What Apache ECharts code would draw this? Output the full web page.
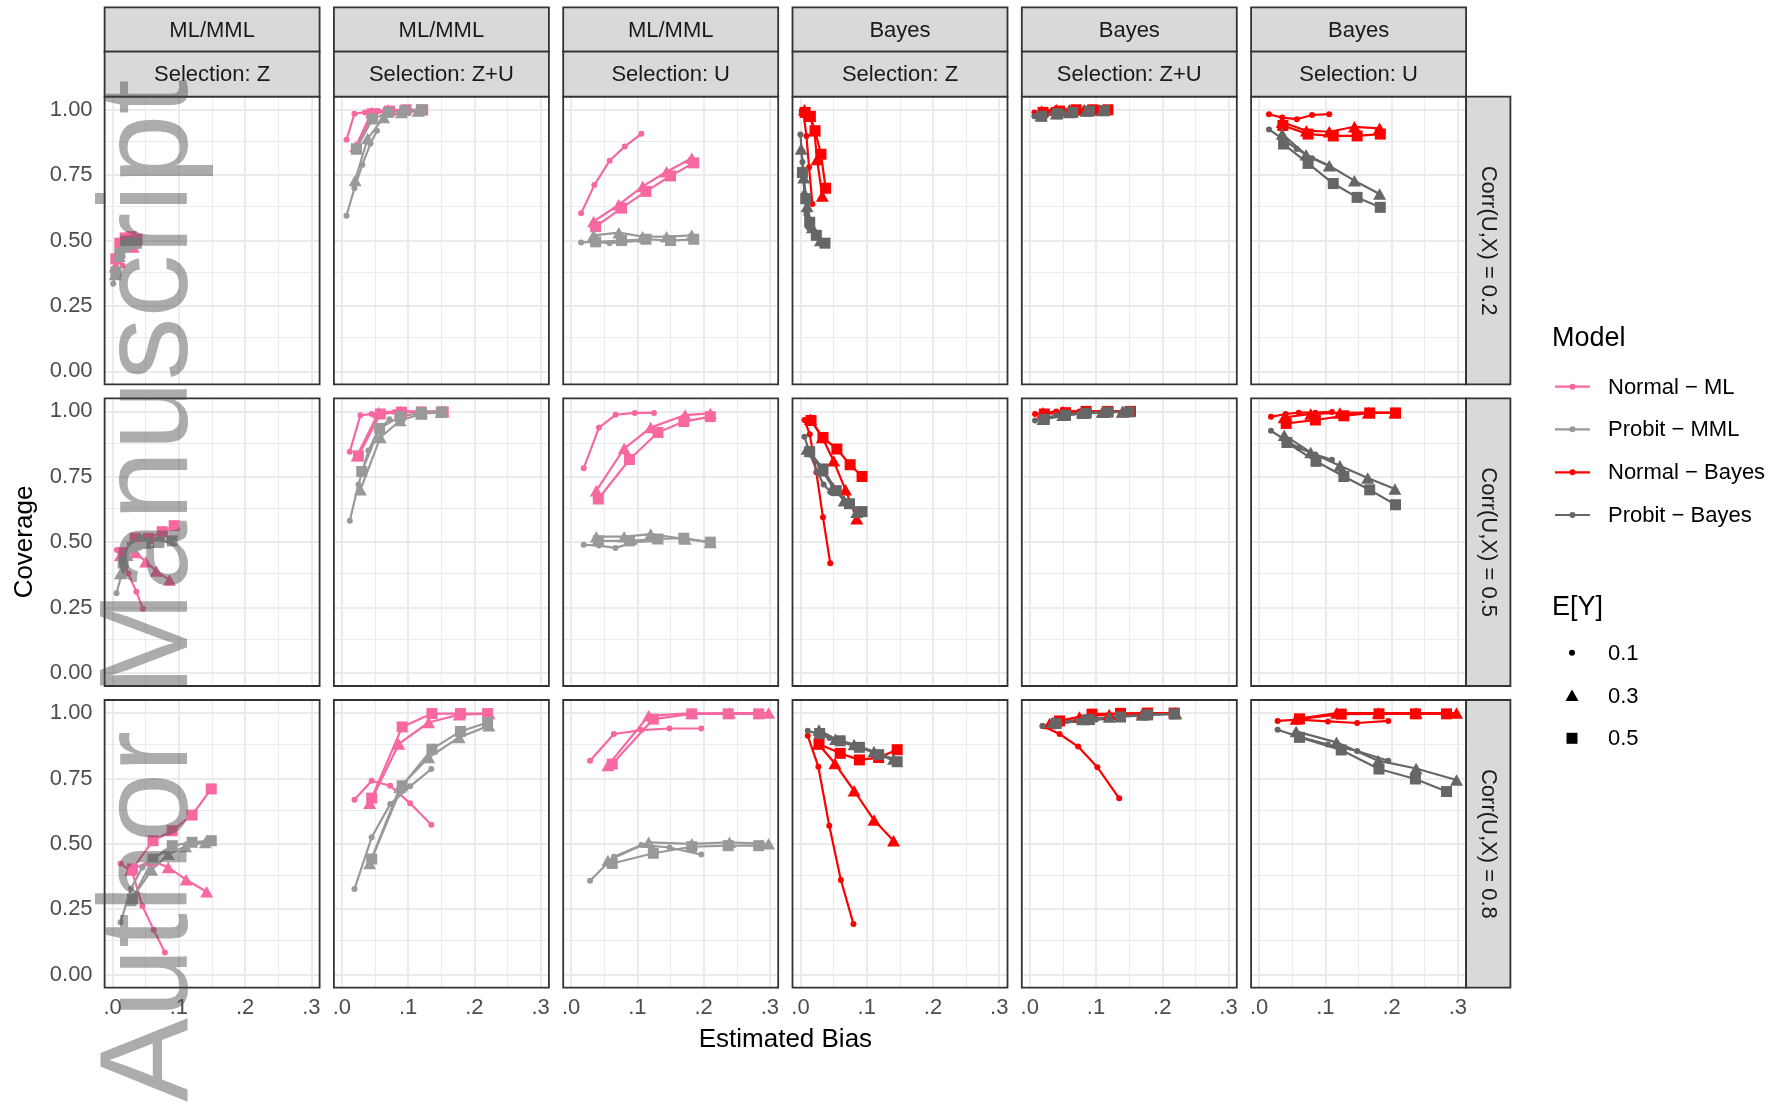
<!DOCTYPE html>
<html><head><meta charset="utf-8">
<script src="https://cdn.jsdelivr.net/npm/echarts@6/dist/echarts.min.js"></script>
<style>html,body{margin:0;padding:0;background:#fff}#c{width:1776px;height:1104px}</style>
</head><body><div id="c"></div>
<script>
// ---------- labels / categories ----------
const methods = ['ML/MML','ML/MML','ML/MML','Bayes','Bayes','Bayes'];
const selections = ['Selection: Z','Selection: Z+U','Selection: U','Selection: Z','Selection: Z+U','Selection: U'];
const corrLabels = ['Corr(U,X) = 0.2','Corr(U,X) = 0.5','Corr(U,X) = 0.8'];
const modelNames = ['Normal − ML','Probit − MML','Normal − Bayes','Probit − Bayes'];
const eyLabels = ['0.1','0.3','0.5'];
const xTickValues = [0, 0.1, 0.2, 0.3];
const xTickLabels = ['.0', '.1', '.2', '.3'];
const xMinorValues = [0.05, 0.15, 0.25];
const yTickValues = [0, 0.25, 0.5, 0.75, 1];
const yTickLabels = ['0.00', '0.25', '0.50', '0.75', '1.00'];
const yMinorValues = [0.125, 0.375, 0.625, 0.875];

// ---------- data: each panel = [Normal E.1, Normal E.3, Normal E.5, Probit E.1, Probit E.3, Probit E.5], points [bias, coverage]
// Row 1: Corr(U,X)=0.2
const r1c1 = [
  [[0.002,0.375],[0.004,0.42],[0.007,0.45],[0.011,0.43],[0.015,0.405]],
  [[0.004,0.40],[0.010,0.46],[0.017,0.49],[0.024,0.485],[0.031,0.475]],
  [[0.005,0.43],[0.011,0.49],[0.019,0.51],[0.028,0.515],[0.037,0.505]],
  [[0.001,0.335],[0.004,0.37],[0.008,0.43],[0.013,0.47],[0.018,0.49]],
  [[0.004,0.37],[0.010,0.44],[0.017,0.475],[0.024,0.49],[0.031,0.49]],
  [[0.005,0.38],[0.011,0.45],[0.019,0.48],[0.027,0.49],[0.036,0.49]]
];
const r1c2 = [
  [[0.007,0.885],[0.019,0.985],[0.035,0.99],[0.055,0.995],[0.075,0.998]],
  [[0.021,0.86],[0.045,0.99],[0.07,1.0],[0.095,1.0],[0.12,1.0]],
  [[0.022,0.85],[0.046,0.985],[0.072,0.995],[0.097,1.0],[0.122,1.0]],
  [[0.007,0.595],[0.019,0.70],[0.031,0.79],[0.043,0.87],[0.053,0.92]],
  [[0.020,0.73],[0.039,0.89],[0.063,0.97],[0.09,0.99],[0.115,0.995]],
  [[0.022,0.85],[0.046,0.965],[0.07,0.99],[0.095,0.997],[0.12,1.0]]
];
const r1c3 = [
  [[0.015,0.604],[0.035,0.712],[0.058,0.805],[0.081,0.86],[0.106,0.908]],
  [[0.034,0.573],[0.072,0.637],[0.108,0.707],[0.144,0.763],[0.182,0.815]],
  [[0.037,0.553],[0.076,0.624],[0.113,0.688],[0.150,0.747],[0.185,0.797]],
  [[0.015,0.493],[0.035,0.495],[0.058,0.49],[0.081,0.495],[0.106,0.50]],
  [[0.034,0.52],[0.072,0.53],[0.108,0.515],[0.144,0.515],[0.182,0.52]],
  [[0.037,0.495],[0.076,0.50],[0.113,0.505],[0.150,0.50],[0.185,0.505]]
];
const r1c4 = [
  [[0.002,0.995],[0.005,0.98],[0.009,0.9],[0.013,0.78],[0.018,0.64]],
  [[0.006,1.0],[0.014,0.975],[0.021,0.92],[0.025,0.81],[0.033,0.67]],
  [[0.007,0.99],[0.015,0.975],[0.022,0.92],[0.031,0.83],[0.038,0.70]],
  [[0.000,0.905],[0.003,0.80],[0.006,0.68],[0.009,0.60],[0.012,0.55]],
  [[0.001,0.85],[0.005,0.74],[0.010,0.63],[0.018,0.55],[0.030,0.50]],
  [[0.003,0.76],[0.008,0.66],[0.014,0.57],[0.024,0.52],[0.037,0.49]]
];
const r1c5 = [
  [[0.007,0.99],[0.02,0.995],[0.035,1.0],[0.05,1.0],[0.065,1.0]],
  [[0.018,0.995],[0.04,1.0],[0.06,1.0],[0.082,1.0],[0.105,1.0]],
  [[0.02,0.99],[0.045,0.995],[0.07,1.0],[0.095,1.0],[0.118,1.0]],
  [[0.007,0.975],[0.02,0.98],[0.035,0.985],[0.05,0.99],[0.065,0.992]],
  [[0.017,0.978],[0.04,0.985],[0.06,0.99],[0.085,0.995],[0.11,0.997]],
  [[0.018,0.975],[0.042,0.985],[0.065,0.99],[0.09,0.995],[0.113,0.997]]
];
const r1c6 = [
  [[0.015,0.983],[0.035,0.97],[0.057,0.964],[0.08,0.98],[0.106,0.983]],
  [[0.035,0.952],[0.0715,0.92],[0.106,0.916],[0.144,0.935],[0.182,0.929]],
  [[0.036,0.94],[0.074,0.907],[0.112,0.90],[0.148,0.90],[0.183,0.907]],
  [[0.015,0.925],[0.035,0.89],[0.057,0.85],[0.08,0.815],[0.106,0.785]],
  [[0.035,0.907],[0.071,0.828],[0.106,0.786],[0.144,0.729],[0.182,0.678]],
  [[0.037,0.869],[0.074,0.795],[0.112,0.718],[0.148,0.665],[0.183,0.627]]
];
// Row 2: Corr(U,X)=0.5
const r2c1 = [
  [[0.0065,0.47],[0.015,0.43],[0.024,0.38],[0.036,0.31],[0.046,0.245]],
  [[0.012,0.45],[0.035,0.46],[0.050,0.425],[0.066,0.39],[0.086,0.355]],
  [[0.016,0.46],[0.034,0.515],[0.054,0.515],[0.075,0.54],[0.093,0.563]],
  [[0.006,0.305],[0.015,0.39],[0.022,0.46],[0.032,0.50],[0.042,0.52]],
  [[0.012,0.38],[0.022,0.45],[0.035,0.49],[0.05,0.50],[0.068,0.50]],
  [[0.016,0.42],[0.03,0.48],[0.05,0.495],[0.07,0.50],[0.09,0.505]]
];
const r2c2 = [
  [[0.012,0.846],[0.028,0.985],[0.045,0.99],[0.062,0.995],[0.08,0.998]],
  [[0.023,0.83],[0.0555,0.996],[0.088,1.0],[0.12,1.0],[0.153,1.0]],
  [[0.025,0.83],[0.058,0.99],[0.09,0.997],[0.12,0.998],[0.153,0.998]],
  [[0.012,0.582],[0.025,0.72],[0.04,0.85],[0.055,0.93],[0.072,0.97]],
  [[0.028,0.70],[0.058,0.90],[0.088,0.965],[0.12,0.99],[0.15,0.997]],
  [[0.03,0.77],[0.057,0.935],[0.088,0.98],[0.12,0.995],[0.15,0.998]]
];
const r2c3 = [
  [[0.019,0.783],[0.042,0.938],[0.067,0.987],[0.096,0.994],[0.125,0.994]],
  [[0.038,0.697],[0.08,0.858],[0.12,0.938],[0.172,0.986],[0.21,0.992]],
  [[0.041,0.665],[0.088,0.816],[0.131,0.919],[0.17,0.961],[0.21,0.98]],
  [[0.019,0.49],[0.042,0.487],[0.067,0.478],[0.096,0.50],[0.125,0.505]],
  [[0.038,0.521],[0.08,0.521],[0.12,0.531],[0.172,0.512],[0.21,0.499]],
  [[0.041,0.505],[0.088,0.505],[0.131,0.512],[0.17,0.515],[0.21,0.50]]
];
const r2c4 = [
  [[0.006,0.967],[0.014,0.913],[0.024,0.767],[0.034,0.595],[0.045,0.419]],
  [[0.015,0.97],[0.033,0.90],[0.05,0.811],[0.068,0.70],[0.085,0.589]],
  [[0.016,0.965],[0.034,0.90],[0.055,0.856],[0.075,0.796],[0.093,0.751]],
  [[0.006,0.903],[0.015,0.834],[0.025,0.77],[0.035,0.72],[0.046,0.69]],
  [[0.01,0.856],[0.033,0.773],[0.049,0.709],[0.066,0.658],[0.085,0.614]],
  [[0.014,0.846],[0.034,0.78],[0.054,0.697],[0.074,0.647],[0.093,0.617]]
];
const r2c5 = [
  [[0.008,0.99],[0.025,0.995],[0.04,1.0],[0.058,1.0],[0.075,1.0]],
  [[0.02,0.995],[0.05,1.0],[0.08,1.0],[0.11,1.0],[0.14,1.0]],
  [[0.022,0.99],[0.054,0.995],[0.085,1.0],[0.118,1.0],[0.152,1.0]],
  [[0.008,0.965],[0.025,0.975],[0.04,0.985],[0.058,0.99],[0.075,0.993]],
  [[0.02,0.97],[0.05,0.985],[0.08,0.993],[0.11,0.997],[0.14,0.998]],
  [[0.022,0.97],[0.054,0.985],[0.085,0.993],[0.118,0.997],[0.15,0.998]]
];
const r2c6 = [
  [[0.018,0.979],[0.04,0.99],[0.06,0.995],[0.085,0.995],[0.11,0.998]],
  [[0.038,0.977],[0.078,0.99],[0.122,0.994],[0.165,0.995],[0.205,0.995]],
  [[0.041,0.954],[0.085,0.967],[0.128,0.983],[0.167,0.994],[0.206,0.994]],
  [[0.018,0.926],[0.04,0.89],[0.06,0.86],[0.085,0.835],[0.11,0.815]],
  [[0.038,0.909],[0.078,0.843],[0.122,0.792],[0.164,0.745],[0.205,0.703]],
  [[0.042,0.881],[0.086,0.809],[0.128,0.751],[0.167,0.70],[0.206,0.643]]
];
// Row 3: Corr(U,X)=0.8
const r3c1 = [
  [[0.012,0.425],[0.030,0.39],[0.045,0.262],[0.062,0.172],[0.079,0.085]],
  [[0.027,0.40],[0.059,0.435],[0.084,0.41],[0.111,0.363],[0.142,0.317]],
  [[0.030,0.404],[0.061,0.512],[0.09,0.55],[0.12,0.61],[0.149,0.71]],
  [[0.012,0.20],[0.028,0.33],[0.045,0.41],[0.062,0.45],[0.08,0.47]],
  [[0.027,0.283],[0.059,0.40],[0.084,0.46],[0.11,0.49],[0.14,0.505]],
  [[0.030,0.289],[0.061,0.442],[0.09,0.493],[0.12,0.506],[0.149,0.512]]
];
const r3c2 = [
  [[0.019,0.669],[0.045,0.741],[0.073,0.722],[0.103,0.655],[0.135,0.573]],
  [[0.042,0.655],[0.086,0.882],[0.131,0.964],[0.177,0.994],[0.222,0.998]],
  [[0.045,0.675],[0.091,0.947],[0.136,0.998],[0.179,0.998],[0.22,0.998]],
  [[0.019,0.327],[0.045,0.525],[0.073,0.652],[0.103,0.72],[0.135,0.786]],
  [[0.042,0.425],[0.0875,0.716],[0.131,0.83],[0.177,0.907],[0.222,0.952]],
  [[0.045,0.442],[0.091,0.722],[0.136,0.862],[0.179,0.93],[0.22,0.964]]
];
const r3c3 = [
  [[0.0285,0.818],[0.0645,0.92],[0.106,0.935],[0.1485,0.941],[0.1965,0.941]],
  [[0.0555,0.80],[0.117,0.99],[0.182,0.999],[0.239,1.0],[0.298,1.0]],
  [[0.062,0.805],[0.124,0.977],[0.182,0.997],[0.237,0.997],[0.283,0.997]],
  [[0.0285,0.359],[0.0645,0.451],[0.106,0.496],[0.1485,0.486],[0.1965,0.459]],
  [[0.0555,0.436],[0.117,0.506],[0.182,0.50],[0.239,0.506],[0.298,0.50]],
  [[0.062,0.425],[0.124,0.464],[0.182,0.489],[0.237,0.493],[0.283,0.493]]
];
const r3c4 = [
  [[0.011,0.913],[0.027,0.795],[0.0435,0.569],[0.061,0.362],[0.080,0.194]],
  [[0.027,0.882],[0.052,0.807],[0.081,0.703],[0.111,0.591],[0.1405,0.512]],
  [[0.028,0.882],[0.06,0.846],[0.089,0.821],[0.118,0.83],[0.146,0.86]],
  [[0.011,0.932],[0.028,0.92],[0.044,0.905],[0.061,0.89],[0.08,0.875]],
  [[0.028,0.935],[0.053,0.90],[0.081,0.88],[0.111,0.853],[0.1405,0.824]],
  [[0.029,0.922],[0.06,0.894],[0.089,0.869],[0.118,0.841],[0.146,0.814]]
];
const r3c5 = [
  [[0.0193,0.951],[0.045,0.92],[0.073,0.872],[0.102,0.793],[0.135,0.674]],
  [[0.03,0.96],[0.075,0.985],[0.12,0.995],[0.17,0.998],[0.22,1.0]],
  [[0.045,0.97],[0.094,0.996],[0.137,0.999],[0.178,1.0],[0.218,1.0]],
  [[0.0193,0.951],[0.045,0.96],[0.073,0.97],[0.1,0.975],[0.135,0.98]],
  [[0.035,0.965],[0.08,0.975],[0.12,0.985],[0.17,0.993],[0.22,0.997]],
  [[0.04,0.96],[0.09,0.975],[0.137,0.985],[0.178,0.993],[0.218,0.997]]
];
const r3c6 = [
  [[0.028,0.97],[0.06,0.975],[0.104,0.968],[0.148,0.962],[0.195,0.97]],
  [[0.056,0.977],[0.117,1.0],[0.18,1.0],[0.237,1.0],[0.298,1.0]],
  [[0.061,0.978],[0.124,0.996],[0.181,0.997],[0.236,0.997],[0.283,0.997]],
  [[0.028,0.936],[0.06,0.91],[0.104,0.88],[0.148,0.855],[0.195,0.818]],
  [[0.056,0.93],[0.117,0.888],[0.18,0.818],[0.237,0.788],[0.298,0.744]],
  [[0.061,0.907],[0.124,0.859],[0.181,0.786],[0.236,0.748],[0.283,0.70]]
];

const panels = [
  [r1c1, r1c2, r1c3, r1c4, r1c5, r1c6],
  [r2c1, r2c2, r2c3, r2c4, r2c5, r2c6],
  [r3c1, r3c2, r3c3, r3c4, r3c5, r3c6]
];

// ---------- styling ----------
const FONT = '"Liberation Sans", Arial, Helvetica, sans-serif';
const modelColors = ['#F768A1', '#999999', '#FF0000', '#666666'];
const shapes = [
  { symbol: 'circle', size: 6 },
  { symbol: 'triangle', size: [13, 11.5] },
  { symbol: 'rect', size: 11 }
];
const colLeft = [104.6, 333.9, 563.2, 792.5, 1021.8, 1251.1];
const rowTop = [96.7, 398.3, 700];
const PW = 215, PH = 287.7;
const XMIN = -0.012, XMAX = 0.3125, YMIN = -0.05, YMAX = 1.05;

const grids = [], xAxes = [], yAxes = [], series = [], graphics = [];

function gridLineData() {
  const d = [];
  xMinorValues.forEach(v => d.push({ xAxis: v, lineStyle: { width: 1, color: '#EBEBEB', type: 'solid' } }));
  yMinorValues.forEach(v => d.push({ yAxis: v, lineStyle: { width: 1, color: '#EBEBEB', type: 'solid' } }));
  xTickValues.forEach(v => d.push({ xAxis: v, lineStyle: { width: 2, color: '#EBEBEB', type: 'solid' } }));
  yTickValues.forEach(v => d.push({ yAxis: v, lineStyle: { width: 2, color: '#EBEBEB', type: 'solid' } }));
  return d;
}

for (let r = 0; r < 3; r++) {
  for (let c = 0; c < 6; c++) {
    const idx = r * 6 + c;
    grids.push({ left: colLeft[c], top: rowTop[r], width: PW, height: PH, show: true,
      backgroundColor: '#FFFFFF', borderWidth: 0 });
    const showX = r === 2, showY = c === 0;
    xAxes.push({
      gridIndex: idx, type: 'value', min: XMIN, max: XMAX,
      splitLine: { show: false }, axisLine: { show: false },
      axisTick: { show: showX, customValues: xTickValues, length: 6, lineStyle: { color: '#333333', width: 1.5 } },
      axisLabel: { show: showX, customValues: xTickValues, margin: 9, fontSize: 22, fontFamily: FONT, color: '#4D4D4D',
        formatter: v => { const i = xTickValues.findIndex(t => Math.abs(t - v) < 1e-9); return i >= 0 ? xTickLabels[i] : ''; } }
    });
    yAxes.push({
      gridIndex: idx, type: 'value', min: YMIN, max: YMAX,
      splitLine: { show: false }, axisLine: { show: false },
      axisTick: { show: showY, customValues: yTickValues, length: 6, lineStyle: { color: '#333333', width: 1.5 } },
      axisLabel: { show: showY, customValues: yTickValues, margin: 12, fontSize: 22, fontFamily: FONT, color: '#4D4D4D',
        formatter: v => { const i = yTickValues.findIndex(t => Math.abs(t - v) < 1e-9); return i >= 0 ? yTickLabels[i] : ''; } }
    });
    // grid lines (drawn beneath the data)
    series.push({
      type: 'line', xAxisIndex: idx, yAxisIndex: idx, data: [[0, 0]], showSymbol: false, symbol: 'none',
      lineStyle: { width: 0 }, silent: true, z: 1,
      markLine: { z: 1, silent: true, symbol: ['none', 'none'], label: { show: false }, animation: false,
        emphasis: { disabled: true }, data: gridLineData() }
    });
    const pdata = panels[r][c];
    const modelOffset = c < 3 ? 0 : 2;
    for (let k = 0; k < 6; k++) {
      const m = modelOffset + Math.floor(k / 3);
      series.push({
        type: 'line', xAxisIndex: idx, yAxisIndex: idx, data: pdata[k], showSymbol: false, symbol: 'none',
        lineStyle: { color: modelColors[m], width: 2.2 }, silent: true, z: 3
      });
    }
    for (let k = 0; k < 6; k++) {
      const m = modelOffset + Math.floor(k / 3);
      const s = shapes[k % 3];
      series.push({
        type: 'scatter', xAxisIndex: idx, yAxisIndex: idx, data: pdata[k],
        symbol: s.symbol, symbolSize: s.size, itemStyle: { color: modelColors[m], opacity: 1 },
        silent: true, z: 4
      });
    }
    graphics.push({ type: 'rect', z: 50, shape: { x: colLeft[c], y: rowTop[r], width: PW, height: PH },
      style: { fill: null, stroke: '#333333', lineWidth: 1.8 } });
  }
}

// top strips
const stripH1 = [7.3, 51.7], stripH2 = [51.7, 96.7];
for (let c = 0; c < 6; c++) {
  [[stripH1, methods[c]], [stripH2, selections[c]]].forEach(([h, label]) => {
    graphics.push({ type: 'rect', z: 50, shape: { x: colLeft[c], y: h[0], width: PW, height: h[1] - h[0] },
      style: { fill: '#D9D9D9', stroke: '#333333', lineWidth: 1.8 } });
    graphics.push({ type: 'text', z: 51, x: colLeft[c] + PW / 2, y: (h[0] + h[1]) / 2 + 1,
      style: { text: label, font: '22px ' + FONT, fill: '#1A1A1A', align: 'center', verticalAlign: 'middle',
        textAlign: 'center', textVerticalAlign: 'middle' } });
  });
}
// right strips
for (let r = 0; r < 3; r++) {
  const sx = colLeft[5] + PW;
  graphics.push({ type: 'rect', z: 50, shape: { x: sx, y: rowTop[r], width: 44.3, height: PH },
    style: { fill: '#D9D9D9', stroke: '#333333', lineWidth: 1.8 } });
  graphics.push({ type: 'text', z: 51, x: sx + 22.15, y: rowTop[r] + PH / 2, rotation: -Math.PI / 2,
    style: { text: corrLabels[r], font: '22px ' + FONT, fill: '#1A1A1A', align: 'center', verticalAlign: 'middle',
      textAlign: 'center', textVerticalAlign: 'middle' } });
}
// axis titles
graphics.push({ type: 'text', z: 51, x: 25, y: 542, rotation: Math.PI / 2,
  style: { text: 'Coverage', font: '26px ' + FONT, fill: '#000000', align: 'center', verticalAlign: 'middle',
    textAlign: 'center', textVerticalAlign: 'middle' } });
graphics.push({ type: 'text', z: 51, x: 785.4, y: 1040,
  style: { text: 'Estimated Bias', font: '26px ' + FONT, fill: '#000000', align: 'center', verticalAlign: 'middle',
    textAlign: 'center', textVerticalAlign: 'middle' } });

// legend: Model
graphics.push({ type: 'text', z: 51, x: 1552, y: 339,
  style: { text: 'Model', font: '27px ' + FONT, fill: '#000000', align: 'left', verticalAlign: 'middle',
    textAlign: 'left', textVerticalAlign: 'middle' } });
const modelKeyY = [386.7, 429.3, 472.3, 515];
modelNames.forEach((name, i) => {
  const y = modelKeyY[i];
  graphics.push({ type: 'line', z: 51, shape: { x1: 1555, y1: y, x2: 1590, y2: y },
    style: { stroke: modelColors[i], lineWidth: 2.2 } });
  graphics.push({ type: 'circle', z: 52, shape: { cx: 1572.5, cy: y, r: 3 }, style: { fill: modelColors[i] } });
  graphics.push({ type: 'text', z: 51, x: 1608, y: y + 1,
    style: { text: name, font: '22px ' + FONT, fill: '#000000', align: 'left', verticalAlign: 'middle',
      textAlign: 'left', textVerticalAlign: 'middle' } });
});
// legend: E[Y]
graphics.push({ type: 'text', z: 51, x: 1552, y: 607.5,
  style: { text: 'E[Y]', font: '27px ' + FONT, fill: '#000000', align: 'left', verticalAlign: 'middle',
    textAlign: 'left', textVerticalAlign: 'middle' } });
const eyKeyY = [652.7, 696, 738.3];
graphics.push({ type: 'circle', z: 52, shape: { cx: 1572, cy: eyKeyY[0], r: 3 }, style: { fill: '#000000' } });
graphics.push({ type: 'polygon', z: 52, shape: { points: [[1572, eyKeyY[1] - 6.5], [1578.5, eyKeyY[1] + 5], [1565.5, eyKeyY[1] + 5]] },
  style: { fill: '#000000' } });
graphics.push({ type: 'rect', z: 52, shape: { x: 1566.5, y: eyKeyY[2] - 5.5, width: 11, height: 11 }, style: { fill: '#000000' } });
eyLabels.forEach((lab, i) => {
  graphics.push({ type: 'text', z: 51, x: 1608, y: eyKeyY[i] + 1,
    style: { text: lab, font: '22px ' + FONT, fill: '#000000', align: 'left', verticalAlign: 'middle',
      textAlign: 'left', textVerticalAlign: 'middle' } });
});

// watermark
graphics.push({ type: 'text', z: 100, x: 152, y: 1102, rotation: Math.PI / 2,
  style: { text: 'Author Manuscript', font: '126px ' + FONT, fill: 'rgba(70,70,70,0.45)', align: 'left', verticalAlign: 'middle',
    textAlign: 'left', textVerticalAlign: 'middle' } });

const chart = echarts.init(document.getElementById('c'), null, { renderer: 'canvas', width: 1776, height: 1104 });
chart.setOption({
  animation: false,
  backgroundColor: '#FFFFFF',
  grid: grids,
  xAxis: xAxes,
  yAxis: yAxes,
  series: series,
  graphic: { elements: graphics }
});
</script>
</body></html>
